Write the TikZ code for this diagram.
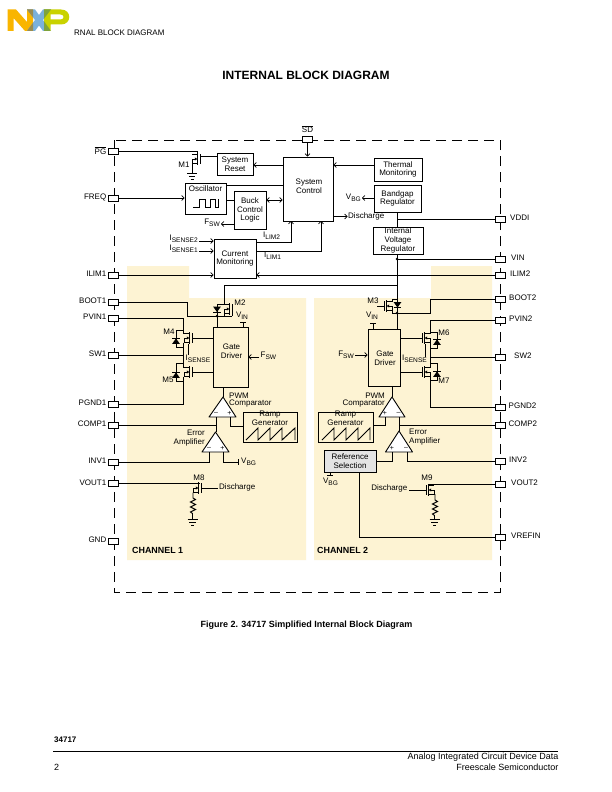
\documentclass[tikz,border=0pt]{standalone}
\usepackage{fontspec}
\setmainfont{Liberation Sans}
\usetikzlibrary{arrows.meta}
\definecolor{chan}{HTML}{FDF3D3}
\definecolor{refgray}{HTML}{E4E4E4}
\definecolor{nxpo}{HTML}{F9B500}
\definecolor{nxpb}{HTML}{7BB1DB}
\definecolor{nxpg}{HTML}{C9D200}
\definecolor{nxpol}{HTML}{9A8C50}
\definecolor{nxpgb}{HTML}{7FA33A}
\newcommand{\subtxt}[1]{\raisebox{-1.6pt}{\fontsize{6.6}{7}\selectfont #1}}
\newcommand{\barbar}[1]{$\overline{\hbox{#1}}$}
\newcommand{\nxpN}{(7.5,9.5) -- (7.5,31) -- (13.5,31) -- (13.5,18) -- (25,31) -- (33,31) -- (33,9.5) -- (27,9.5) -- (27,22) -- (16,9.5) -- cycle}
\newcommand{\nxpX}{(27,9.5) -- (35,9.5) -- (39,15) -- (43,9.5) -- (51,9.5) -- (43,20) -- (51,31) -- (43,31) -- (39,25.5) -- (35,31) -- (27,31) -- (35,20) -- cycle}
\newcommand{\nxpP}{(44,9.5) -- (61,9.5) .. controls (72,9.5) and (72,24.5) .. (61,24.5) -- (50.5,24.5) -- (50.5,31) -- (44,31) -- cycle}
\tikzset{
  x=1pt, y=-1pt,
  every node/.style={font=\fontsize{8}{8.6}\selectfont, inner sep=0pt, text=black},
  wire/.style={draw=black, line width=0.95pt},
  arr/.style={wire, -{Straight Barb[length=2.4pt,width=5pt,line width=0.7pt]}},
  darr/.style={wire, {Straight Barb[length=2.4pt,width=5pt,line width=0.7pt]}-{Straight Barb[length=2.4pt,width=5pt,line width=0.7pt]}},
  blk/.style={draw=black, line width=1pt, rectangle, align=center, fill=none},
  pinbox/.style={draw=black, line width=0.95pt, fill=white, rectangle, minimum width=10.5pt, minimum height=6pt},
  lbl/.style={align=center},
  amp/.style={draw=black, line width=0.9pt, fill=white, line join=round},
  sgn/.style={font=\fontsize{7}{7}\selectfont},
  mosfet/.pic={
    \draw[wire] (0,-5) -- (0,5);
    \draw[wire] (2.7,-6) -- (2.7,6);
    \draw[wire] (2.7,-4.5) -- (8,-4.5);
    \draw[wire] (2.7,4.5) -- (8,4.5);
    \draw[wire] (8,0) -- (8,4.5);
    \draw[wire] (5,0) -- (8,0);
    \fill (2.7,0) -- (5.2,-1.6) -- (5.2,1.6) -- cycle;
  },
  diode/.pic={
    \fill (-3.8,2.8) -- (3.8,2.8) -- (0,-2.6) -- cycle;
    \draw[wire] (-3.8,-2.8) -- (3.8,-2.8);
  },
  earth/.pic={
    \draw[wire] (-5,0) -- (5,0);
    \draw[wire] (-3.2,3) -- (3.2,3);
    \draw[wire] (-1.5,6) -- (1.5,6);
  },
  tbar/.pic={\draw[wire] (-3,0) -- (3,0);},
}
\begin{document}
\begin{tikzpicture}
\useasboundingbox (0,0) rectangle (612,792);
\fill[white] (0,0) rectangle (612,792);

% Company mark
\fill[nxpo] \nxpN;
\fill[nxpb] \nxpX;
\fill[nxpg] \nxpP;
\begin{scope}\clip \nxpN; \fill[nxpol] \nxpX; \end{scope}
\begin{scope}\clip \nxpX; \fill[nxpgb] \nxpP; \end{scope}
\fill[white] (50.5,14.5) -- (60,14.5) .. controls (64.5,14.5) and (64.5,19.5) .. (60,19.5) -- (50.5,19.5) -- cycle;

% Page furniture
\node[anchor=west,font=\fontsize{8}{9}\selectfont] (hdr) at (74,33) {RNAL BLOCK DIAGRAM};
\node[font=\bfseries\fontsize{12}{13}\selectfont] (title) at (306,75) {INTERNAL BLOCK DIAGRAM};
\node[font=\bfseries\fontsize{9}{10}\selectfont] (cap) at (306.5,625.5) {Figure 2. 34717 Simplified Internal Block Diagram};
\node[anchor=west,font=\bfseries\fontsize{8}{9}\selectfont] (part) at (54,740) {34717};
\draw[line width=1.5pt] (53,751.5) -- (558,751.5);
\node[anchor=east,font=\fontsize{9}{10}\selectfont] (ftr1) at (558.5,757) {Analog Integrated Circuit Device Data};
\node[anchor=east,font=\fontsize{9}{10}\selectfont] (ftr2) at (558.5,767) {Freescale Semiconductor};
\node[anchor=west,font=\fontsize{9}{10}\selectfont] (pageno) at (54,767) {2};

% Channel backgrounds
\fill[chan] (127,266) -- (189,266) -- (189,298) -- (306,298) -- (306,560) -- (127,560) -- cycle;
\fill[chan] (314,298) -- (431,298) -- (431,266) -- (492,266) -- (492,560) -- (314,560) -- cycle;
\node[anchor=west,font=\bfseries\fontsize{8.9}{10}\selectfont] (ch1) at (132,550) {CHANNEL 1};
\node[anchor=west,font=\bfseries\fontsize{8.9}{10}\selectfont] (ch2) at (317,550) {CHANNEL 2};

% Package outline
\draw[line width=0.85pt, dash pattern=on 10pt off 6pt] (114,140) rectangle (500,592);

% Package pins
\foreach \n/\t/\py in {ppg/\barbar{PG}/151.5, pfreq/FREQ/198, pilim1/ILIM1/275, pboot1/BOOT1/302, ppvin1/PVIN1/318, psw1/SW1/355, ppgnd1/PGND1/404, pcomp1/COMP1/425, pinv1/INV1/462, pvout1/VOUT1/483.5, pgnd/GND/541}{
  \node[pinbox] (\n) at (113.5,\py) {};
  \node[lbl,anchor=east] (l\n) at (106.5,\py-1) {\t};
}
\foreach \n/\t/\py/\lx in {pvddi/VDDI/219/510, pvin/VIN/259/511, pilim2/ILIM2/275/510, pboot2/BOOT2/299/509, ppvin2/PVIN2/320/509, psw2/SW2/357/514, ppgnd2/PGND2/407/508.5, pcomp2/COMP2/425/508.5, pinv2/INV2/461/509, pvout2/VOUT2/484/511, pvrefin/VREFIN/537/511}{
  \node[pinbox] (\n) at (500.5,\py) {};
  \node[lbl,anchor=west] (l\n) at (\lx,\py-1) {\t};
}
\node[pinbox] (psd) at (307.5,139) {};
\node[lbl] (lpsd) at (307.5,129) {\barbar{SD}};

% Functional blocks
\node[blk,minimum width=36pt,minimum height=22pt] (reset) at (235,164) {System\\Reset};
\node[blk,minimum width=41pt,minimum height=31pt] (osc) at (205.5,198.5) {};
\node[lbl] (osct) at (205.5,189) {Oscillator};
\node[blk,minimum width=32pt,minimum height=38pt] (buck) at (250,210) {Buck\\Control\\Logic};
\node[blk,minimum width=42pt,minimum height=39pt] (cur) at (235,258.5) {Current\\Monitoring};
\node[blk,minimum width=50pt,minimum height=64pt] (sys) at (308,189) {};
\node[lbl] (syst) at (309,186) {System\\Control};
\node[blk,minimum width=48pt,minimum height=23pt] (therm) at (398,169.5) {Thermal\\Monitoring};
\node[blk,minimum width=47pt,minimum height=27pt] (band) at (397.5,198.5) {Bandgap\\Regulator};
\node[blk,minimum width=50pt,minimum height=27pt] (ivr) at (398,240.5) {Internal\\Voltage\\Regulator};
\node[blk,minimum width=35pt,minimum height=60pt] (gd1) at (230.5,357) {};
\node[lbl] (gd1t) at (231.5,351) {Gate\\Driver};
\node[blk,minimum width=32pt,minimum height=57pt] (gd2) at (384,357.5) {};
\node[lbl] (gd2t) at (385,358) {Gate\\Driver};
\node[blk,minimum width=54pt,minimum height=30pt] (ramp1) at (270,427) {};
\node[lbl] (ramp1t) at (270,418.5) {Ramp\\Generator};
\node[blk,minimum width=55pt,minimum height=30pt] (ramp2) at (345.5,427) {};
\node[lbl] (ramp2t) at (345.5,418.5) {Ramp\\Generator};
\node[blk,fill=refgray,minimum width=52pt,minimum height=22pt] (refsel) at (350,461) {Reference\\Selection};

% Waveforms inside the oscillator and the ramp generators
\draw[wire] (193,207) -- (199,207) -- (199,199) -- (205,199) -- (205,207) -- (210,207) -- (210,199) -- (215,199) -- (215,207) -- (218,207) -- (218,199);
\draw[wire] (246,440) -- (258,428) -- (258,440) -- (270,428) -- (270,440) -- (282,428) -- (282,440) -- (295,428) -- (295,440);
\draw[wire] (322,440) -- (334,428) -- (334,440) -- (346,428) -- (346,440) -- (358,428) -- (358,440) -- (370,428) -- (370,440);

% Control section connections
\coordinate (m1top) at (197,151.5);
\draw[wire] (ppg.east) -- (m1top) -- (197,155);
\draw[wire] (reset.west |- 0,156.5) -- (200,156.5);
\pic[xscale=-1] at (200,159) {mosfet};
\coordinate (m1s) at (192,163.5);
\pic at (192,173) {earth};
\draw[wire] (m1s) -- (192,173);
\node[lbl] (lm1) at (184,165) {M1};
\draw[arr] (sys.west |- 0,165) -- (reset.east |- 0,165);
\draw[arr] (pfreq.east) -- (osc.west |- pfreq.east);
\draw[wire] (osc.east |- 0,185) -- (sys.west |- 0,185);
\draw[wire] (osc.east |- 0,200) -- (buck.west |- 0,200);
\draw[darr] (buck.east |- 0,200) -- (sys.west |- 0,200);
\draw[arr] (buck.west |- 0,224) -- (221,224);
\node[lbl,anchor=east] (lfsw0) at (220,223) {F\subtxt{SW}};
\coordinate (is2) at (199,241);
\coordinate (is1) at (199,251);
\node[lbl,anchor=east] (lis2) at (198,238.5) {I\subtxt{SENSE2}};
\node[lbl,anchor=east] (lis1) at (198,248.5) {I\subtxt{SENSE1}};
\draw[arr] (is2) -- (cur.west |- is2);
\draw[arr] (is1) -- (cur.west |- is1);
\draw[arr] (pilim1.east) -- (cur.west |- pilim1.east);
\draw[arr] (pilim2.west) -- (cur.east |- pilim2.west);
\draw[arr] (cur.east |- 0,242) -- (291,242) -- (291,221);
\draw[arr] (cur.east |- 0,251) -- (321,251) -- (321,221);
\node[lbl,anchor=west] (lilim2) at (263,236) {I\subtxt{LIM2}};
\node[lbl,anchor=west] (lilim1) at (264,256) {I\subtxt{LIM1}};
\draw[arr] (psd.south) -- (psd.south |- sys.north);
\draw[arr] (therm.west |- 0,165) -- (sys.east |- 0,165);
\draw[arr] (band.west |- 0,198) -- (362,198);
\node[lbl,anchor=east] (lvbg0) at (361,197.5) {V\subtxt{BG}};
\draw[arr] (sys.east |- 0,216.5) -- (347.5,216.5);
\node[lbl,anchor=west] (ldis0) at (348,216) {Discharge};
\coordinate (rail) at (397,259);
\draw[wire] (band.south -| rail) -- (ivr.north -| rail);
\draw[wire] (pvddi.west) -- (rail |- pvddi.west);
\draw[wire] (ivr.south -| rail) -- (397,299);
\draw[wire] (pvin.west) -- (rail);
\fill (rail) circle (1.4);

% High-side switch of channel 1
\coordinate (m2d) at (224,304.5);
\coordinate (m2j) at (217,316);
\draw[wire] (397,285) -- (224,285) -- (m2d);
\pic[xscale=-1] at (232,309) {mosfet};
\draw[wire] (pboot1.east) -- (187,302) -- (187,316) -- (232,316);
\draw[wire] (232,314) -- (232,316);
\draw[wire] (224,313.5) -- (224,316);
\draw[wire] (224,304) -- (217,304) -- (m2j);
\pic[yscale=-1] at (217,309.5) {diode};
\fill (m2j) circle (1.4);
\draw[wire] (m2j) -- (m2j |- gd1.north);
\node[lbl] (lm2) at (240,303) {M2};
\draw[wire] (243,322) -- (243,327);
\pic at (243,322) {tbar};
\node[lbl] (lvin1) at (242,315.5) {V\subtxt{IN}};

% Half bridge of channel 1
\draw[wire] (ppvin1.east) -- (183.5,318) -- (183.5,333.5);
\pic[xscale=-1] at (192,338) {mosfet};
\draw[wire] (gd1.west |- 0,338) -- (192,338);
\draw[wire] (183.5,330) -- (176,330) -- (176,347) -- (183.5,347);
\pic at (176,341) {diode};
\node[lbl] (lm4) at (169,332) {M4};
\draw[wire] (psw1.east) -- (183.5,355);
\draw[wire] (183.5,342.5) -- (183.5,367.5);
\draw[wire] (188.5,344) -- (188.5,355);
\pic[xscale=-1] at (192,372) {mosfet};
\draw[wire] (gd1.west |- 0,372) -- (192,372);
\draw[wire] (183.5,363) -- (176,363) -- (176,381) -- (183.5,381);
\pic at (176,375) {diode};
\node[lbl] (lm5) at (168,380) {M5};
\draw[wire] (183.5,376.5) -- (183.5,404) -- (ppgnd1.east);
\node[lbl,anchor=west] (lis1b) at (185.5,358.5) {I\subtxt{SENSE}};
\draw[arr] (259,357) -- (gd1.east |- 0,357);
\node[lbl,anchor=west] (lf1) at (260.5,356) {F\subtxt{SW}};

% Comparator and error amplifier of channel 1
\draw[amp] (223,397) -- (236,417) -- (209,417) -- cycle;
\node[sgn] (pm1) at (216,413.5) {–};
\node[sgn] (pp1) at (229.5,413.5) {+};
\node[lbl,anchor=west] (lpwm1a) at (229,396) {PWM};
\node[lbl,anchor=west] (lpwm1b) at (229,404) {Comparator};
\draw[amp] (215.5,432) -- (229,452) -- (202,452) -- cycle;
\node[sgn] (pm2) at (209,448.5) {–};
\node[sgn] (pp2) at (222.5,448.5) {+};
\node[lbl,anchor=east] (lea1a) at (205,433) {Error};
\node[lbl,anchor=east] (lea1b) at (205,442) {Amplifier};
\draw[wire] (223,387) -- (223,397);
\draw[wire] (216,417) -- (216,432);
\draw[wire] (pcomp1.east) -- (216,425);
\draw[wire] (230,417) -- (230,426.5) -- (ramp1.west |- 0,426.5);
\draw[wire] (pinv1.east) -- (209,462) -- (209,452);
\draw[wire] (223,452) -- (223,462) -- (238,462);
\draw[wire] (238,459) -- (238,465);
\node[lbl,anchor=west] (lvbg1) at (241,461.5) {V\subtxt{BG}};

% Discharge switch of channel 1
\draw[wire] (pvout1.east) -- (200,483.5);
\pic[xscale=-1] at (201,488) {mosfet};
\coordinate (dis1) at (218,488);
\draw[wire] (dis1) -- (201,488);
\node[lbl,anchor=west] (ldis1) at (219,487.5) {Discharge};
\draw[wire] (193,492.5) -- (193,498) -- (195.5,499.5) -- (190.5,502) -- (195.5,504.5) -- (190.5,507) -- (195.5,509.5) -- (190.5,512) -- (192.5,513.5) -- (192.5,519);
\pic at (192.5,519) {earth};
\node[lbl] (lm8) at (199,478) {M8};

% High-side switch of channel 2
\pic at (384,306) {mosfet};
\coordinate (m3j) at (397,313);
\draw[wire] (377,306) -- (384,306);
\draw[wire] (392,301.5) -- (392,299) -- (397,299);
\draw[wire] (392,310.5) -- (392,313) -- (430,313) -- (430,299) -- (pboot2.west);
\pic[yscale=-1] at (397.5,305) {diode};
\draw[wire] (397,299) -- (m3j);
\fill (m3j) circle (1.4);
\draw[wire] (m3j) -- (m3j |- gd2.north);
\node[lbl] (lm3) at (373,301) {M3};
\draw[wire] (373,323) -- (373,329);
\pic at (373,323) {tbar};
\node[lbl] (lvin2) at (372,315.5) {V\subtxt{IN}};

% Half bridge of channel 2
\draw[wire] (ppvin2.west) -- (430,320) -- (430,333.5);
\pic at (422,338) {mosfet};
\draw[wire] (gd2.east |- 0,338) -- (422,338);
\draw[wire] (430,332) -- (437,332) -- (437,348) -- (430,348);
\pic at (437,342) {diode};
\node[lbl] (lm6) at (444,333) {M6};
\draw[wire] (psw2.west) -- (430,357);
\draw[wire] (430,342.5) -- (430,367.5);
\draw[wire] (425.5,344) -- (425.5,357);
\pic at (422,372) {mosfet};
\draw[wire] (gd2.east |- 0,372) -- (422,372);
\draw[wire] (430,363) -- (437,363) -- (437,380) -- (430,380);
\pic at (437,374) {diode};
\node[lbl] (lm7) at (444,381) {M7};
\draw[wire] (430,376.5) -- (430,407) -- (ppgnd2.west);
\node[lbl,anchor=east] (lis2b) at (427,358.5) {I\subtxt{SENSE}};
\draw[arr] (355,355) -- (gd2.west |- 0,355);
\node[lbl,anchor=east] (lf2) at (354,355) {F\subtxt{SW}};

% Comparator and error amplifier of channel 2
\draw[amp] (392,397) -- (405,417) -- (379,417) -- cycle;
\node[sgn] (pp3) at (385,413.5) {+};
\node[sgn] (pm3) at (398.5,413.5) {–};
\node[lbl,anchor=east] (lpwm2a) at (385,395.5) {PWM};
\node[lbl,anchor=east] (lpwm2b) at (385,403.5) {Comparator};
\draw[amp] (399,431) -- (412.5,452) -- (385.5,452) -- cycle;
\node[sgn] (pp4) at (392,448.5) {+};
\node[sgn] (pm4) at (406,448.5) {–};
\node[lbl,anchor=west] (lea2a) at (409,432) {Error};
\node[lbl,anchor=west] (lea2b) at (409,441) {Amplifier};
\draw[wire] (392,386) -- (392,397);
\draw[wire] (399,417) -- (399,431);
\draw[wire] (pcomp2.west) -- (399,425);
\draw[wire] (385,417) -- (385,425.5) -- (ramp2.east |- 0,425.5);
\draw[wire] (392,452) -- (392,461) -- (refsel.east |- 0,461);
\draw[wire] (407,452) -- (407,461) -- (pinv2.west);
\draw[wire] (330,472) -- (330,475);
\pic at (330,475) {tbar};
\node[lbl] (lvbg2) at (330.5,481.5) {V\subtxt{BG}};
\draw[wire] (359,472) -- (359,537) -- (pvrefin.west);

% Discharge switch of channel 2
\draw[wire] (pvout2.west) -- (428,484);
\pic at (426,490) {mosfet};
\coordinate (dis2) at (409,490);
\draw[wire] (dis2) -- (426,490);
\node[lbl,anchor=east] (ldis2) at (407.5,488) {Discharge};
\draw[wire] (434,494.5) -- (435,494.5) -- (435,500) -- (437.5,501.5) -- (432.5,504) -- (437.5,506.5) -- (432.5,509) -- (437.5,511.5) -- (432.5,514) -- (434.5,515.5) -- (434.5,519);
\pic at (434.5,519) {earth};
\node[lbl] (lm9) at (427,478) {M9};
\end{tikzpicture}
\end{document}
